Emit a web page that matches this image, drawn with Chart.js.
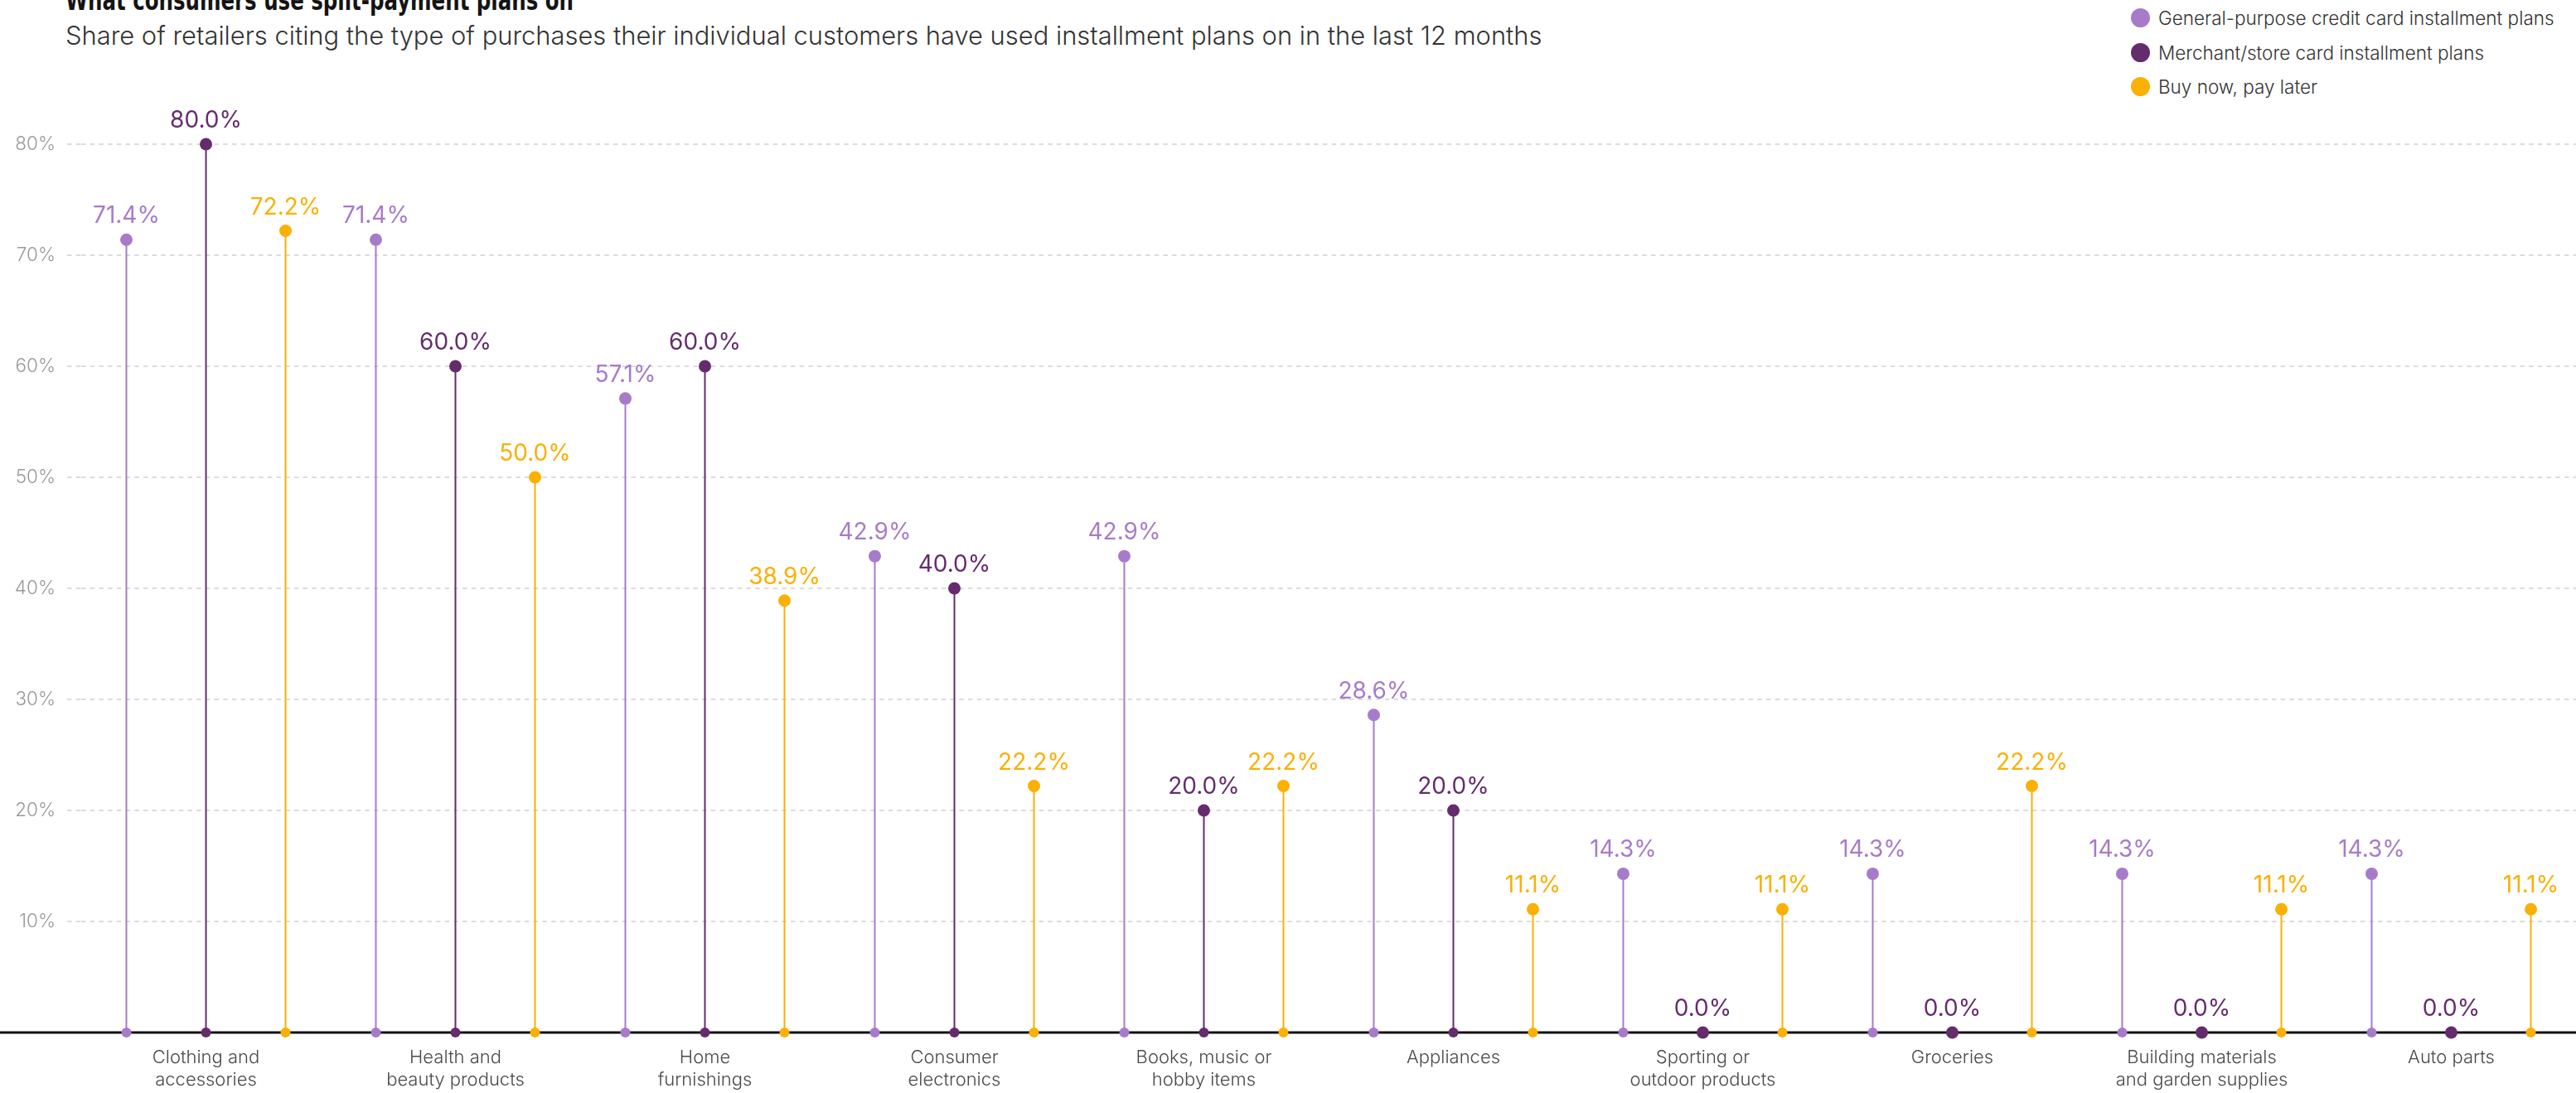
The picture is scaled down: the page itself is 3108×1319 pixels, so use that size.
<!DOCTYPE html>
<html>
<head>
<meta charset="utf-8">
<script src="https://cdn.jsdelivr.net/npm/chart.js@4.4.1/dist/chart.umd.min.js"></script>
<style>
html,body{margin:0;padding:0;background:#fff;overflow:hidden;}
#wrap{position:relative;width:3108px;height:1319px;overflow:hidden;}
#title{position:absolute;left:79px;top:-17px;margin:0;font:bold 34px "Liberation Sans Narrow","DejaVu Sans Condensed",sans-serif;color:#141414;white-space:nowrap;line-height:34px;transform:scaleX(0.8);transform-origin:0 0;}
#subtitle{position:absolute;left:79px;top:25px;margin:0;font:300 30.9px Inter,Lato,sans-serif;color:#333;white-space:nowrap;line-height:36px;}
#legend{position:absolute;left:2571px;top:1px;font:300 22.5px Inter,Lato,sans-serif;color:#333;}
#legend div{height:41.5px;display:flex;align-items:center;white-space:nowrap;}
#legend span.dot{display:inline-block;width:23px;height:23px;border-radius:50%;margin-right:10px;}
canvas{position:absolute;left:0;top:0;}
</style>
</head>
<body>
<div id="wrap">
  <h1 id="title">What consumers use split-payment plans on</h1>
  <p id="subtitle">Share of retailers citing the type of purchases their individual customers have used installment plans on in the last 12 months</p>
  <div id="legend"></div>
  <canvas id="chart" width="3108" height="1319"></canvas>
</div>
<script>
// ========== Data ==========
const categories=[
    ['Clothing and','accessories'],
    ['Health and','beauty products'],
    ['Home','furnishings'],
    ['Consumer','electronics'],
    ['Books, music or','hobby items'],
    'Appliances',
    ['Sporting or','outdoor products'],
    'Groceries',
    ['Building materials','and garden supplies'],
    'Auto parts'
];
const seriesNames=['General-purpose credit card installment plans','Merchant/store card installment plans','Buy now, pay later'];
const generalPurpose=[71.4,71.4,57.1,42.9,42.9,28.6,14.3,14.3,14.3,14.3];
const merchantCard=[80.0,60.0,60.0,40.0,20.0,20.0,0.0,0.0,0.0,0.0];
const buyNowPayLater=[72.2,50.0,38.9,22.2,22.2,11.1,11.1,22.2,11.1,11.1];
const yTicks=[10,20,30,40,50,60,70,80];

const colors=['#a77bca','#652c6d','#fab005'];
const FONT='Inter, Lato, sans-serif';

// ========== Legend (html) ==========
const legend=document.getElementById('legend');
seriesNames.forEach((n,i)=>{
    const row=document.createElement('div');
    const d=document.createElement('span'); d.className='dot'; d.style.background=colors[i];
    row.appendChild(d); row.appendChild(document.createTextNode(n));
    legend.appendChild(row);
});

// ========== Plugins ==========
const axisLine={
    id:'axisLine',
    beforeDatasetsDraw(chart){
        const ctx=chart.ctx, y=chart.scales.y.getPixelForValue(0);
        ctx.save();
        ctx.strokeStyle='#111'; ctx.lineWidth=3;
        ctx.beginPath(); ctx.moveTo(0,y); ctx.lineTo(chart.width,y); ctx.stroke();
        ctx.restore();
    }
};
const lollipops={
    id:'lollipops',
    afterDatasetsDraw(chart){
        const ctx=chart.ctx;
        ctx.save();
        // base dots on the axis
        chart.data.datasets.forEach((ds,i)=>{
            chart.getDatasetMeta(i).data.forEach(bar=>{
                ctx.fillStyle=colors[i];
                ctx.beginPath(); ctx.arc(bar.x,bar.base,6,0,Math.PI*2); ctx.fill();
            });
        });
        // top dots + value labels
        chart.data.datasets.forEach((ds,i)=>{
            chart.getDatasetMeta(i).data.forEach((bar,j)=>{
                ctx.fillStyle=colors[i];
                ctx.beginPath(); ctx.arc(bar.x,bar.y,7.5,0,Math.PI*2); ctx.fill();
                ctx.font='400 28px '+FONT;
                ctx.textAlign='center'; ctx.textBaseline='alphabetic';
                ctx.fillText(ds.data[j].toFixed(1)+'%',bar.x,bar.y-20);
            });
        });
        ctx.restore();
    }
};

// ========== Chart ==========
new Chart(document.getElementById('chart'),{
    type:'bar',
    data:{
        labels:categories,
        datasets:[generalPurpose,merchantCard,buyNowPayLater].map((d,i)=>({
            label:seriesNames[i],data:d,backgroundColor:colors[i],
            maxBarThickness:2,barPercentage:1,categoryPercentage:0.957
        }))
    },
    options:{
        responsive:false,animation:false,devicePixelRatio:1,
        layout:{padding:{top:174,left:0,right:0,bottom:0}},
        plugins:{legend:{display:false},tooltip:{enabled:false}},
        scales:{
            x:{
                grid:{display:false},border:{display:false},
                ticks:{color:'#4a4a4a',font:{family:FONT,size:22,weight:300,lineHeight:1.22},padding:9,maxRotation:0,autoSkip:false},
                afterFit(s){s.height=73;}
            },
            y:{
                min:0,max:80,
                border:{display:false,dash:[5.5,5.2]},
                grid:{color:'#dcdcdc',lineWidth:2,tickLength:17,tickColor:'#dcdcdc',tickWidth:2,tickBorderDash:[5.5,5.2]},
                afterBuildTicks(s){s.ticks=yTicks.map(v=>({value:v}));},
                ticks:{color:'#9a9a9a',font:{family:FONT,size:22.5,weight:300},padding:14,callback:v=>v+'%'},
                afterFit(s){s.width=98;}
            }
        }
    },
    plugins:[axisLine,lollipops]
});
</script>
</body>
</html>
